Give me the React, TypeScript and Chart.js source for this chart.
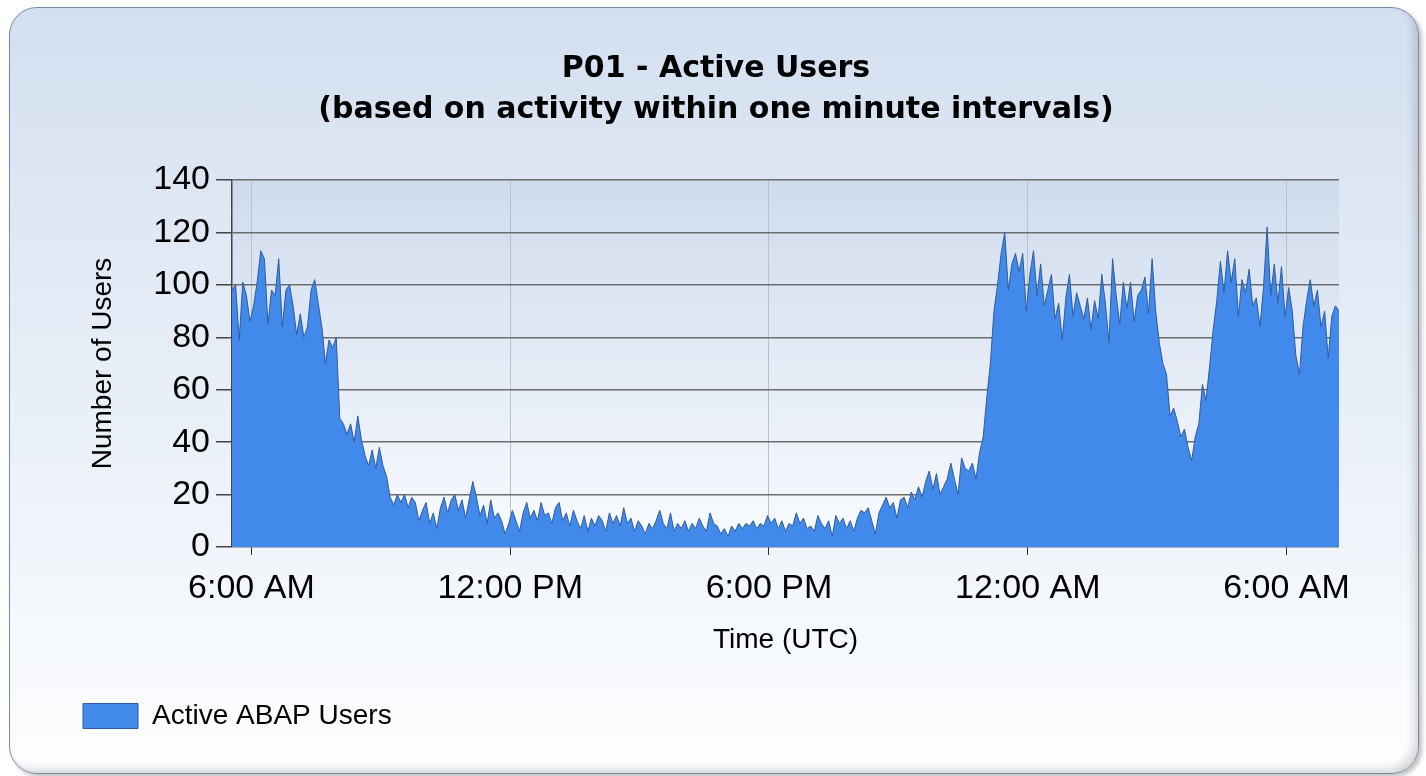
import React, { useEffect, useRef } from "react";
import { Chart, registerables } from "chart.js";

Chart.register(...registerables);

// ---- Data (5-minute samples) ----
const startHour = 5.55; // 5:33 AM (UTC)
const stepMinutes = 5;

// 05:33 – 09:43
const morningUsers = [
  98, 100, 79, 101, 96, 86, 92, 101, 113, 110, 85, 98, 96, 110, 84, 98, 100, 92, 81, 89,
  80, 84, 98, 102, 93, 84, 70, 79, 76, 80, 49, 47, 43, 47, 40, 50, 41, 35, 31, 37,
  30, 38, 31, 27, 19, 16, 20, 17, 20, 15, 19,
];
// 09:48 – 14:03
const middayUsers = [
  17, 10, 14, 17, 9, 13, 7, 15, 19, 13, 18, 20, 14, 18, 11, 18, 25, 19, 12, 16,
  9, 18, 11, 13, 10, 5, 9, 14, 10, 6, 13, 17, 11, 14, 10, 17, 12, 13, 9, 15,
  17, 10, 13, 8, 14, 10, 7, 12, 6, 11, 8, 12,
];
// 14:08 – 18:18
const afternoonUsers = [
  10, 6, 13, 9, 12, 8, 15, 9, 11, 6, 10, 8, 5, 9, 7, 10, 14, 9, 7, 13,
  6, 9, 7, 10, 6, 9, 7, 11, 8, 6, 13, 9, 8, 5, 7, 4, 8, 6, 9, 7,
  9, 8, 10, 7, 9, 8, 12, 9, 11, 7, 10,
];
// 18:23 – 22:33
const eveningUsers = [
  6, 9, 8, 13, 9, 11, 7, 8, 6, 12, 9, 7, 10, 4, 12, 9, 11, 7, 10, 6,
  11, 14, 13, 15, 10, 5, 13, 16, 19, 15, 17, 11, 18, 19, 15, 21, 18, 23, 19, 25,
  29, 22, 28, 20, 23, 26, 32, 26, 20, 34, 30,
];
// 22:38 – 02:53
const nightUsers = [
  29, 32, 26, 36, 42, 57, 70, 90, 100, 112, 120, 98, 108, 112, 105, 112, 90, 104, 113, 96,
  108, 92, 98, 104, 87, 93, 79, 95, 104, 88, 97, 92, 87, 95, 83, 94, 87, 104, 93, 78,
  110, 96, 85, 101, 91, 101, 86, 96, 98, 103, 89, 110,
];
// 02:58 – 07:13
const earlyUsers = [
  90, 78, 70, 66, 50, 53, 48, 42, 45, 38, 33, 42, 47, 62, 56, 69, 83, 94, 109, 97,
  113, 101, 110, 88, 102, 97, 106, 92, 95, 84, 99, 122, 96, 108, 93, 107, 88, 99, 90, 73,
  66, 84, 94, 102, 92, 98, 84, 90, 72, 88, 92, 90,
];

const activeUsers = [
  ...morningUsers,
  ...middayUsers,
  ...afternoonUsers,
  ...eveningUsers,
  ...nightUsers,
  ...earlyUsers,
];

const endHour = startHour + ((activeUsers.length - 1) * stepMinutes) / 60;

const xTickHours = [6, 12, 18, 24, 30];
const xTickLabels = ["6:00 AM", "12:00 PM", "6:00 PM", "12:00 AM", "6:00 AM"];
const yMin = 0;
const yMax = 140;
const yStep = 20;

const seriesLabel = "Active ABAP Users";
const titleLines = ["P01 - Active Users", "(based on activity within one minute intervals)"];
const yAxisTitle = "Number of Users";
const xAxisTitle = "Time (UTC)";

const plotBackground = {
  id: "plotBackground",
  beforeDraw(chart: any) {
    const { ctx, chartArea } = chart;
    if (!chartArea) return;
    const g = ctx.createLinearGradient(0, chartArea.top, 0, chartArea.bottom);
    g.addColorStop(0, "#cfdbed");
    g.addColorStop(1, "#f9fbfe");
    ctx.save();
    ctx.fillStyle = g;
    ctx.fillRect(chartArea.left, chartArea.top, chartArea.right - chartArea.left, chartArea.bottom - chartArea.top);
    ctx.restore();
  },
};

// Title centred on the whole framed panel (not just the chart's layout box)
const panelTitle = {
  id: "panelTitle",
  afterDraw(chart: any) {
    const { ctx, width } = chart;
    ctx.save();
    ctx.fillStyle = "#000";
    ctx.font = "bold 30px 'DejaVu Sans', Verdana, sans-serif";
    ctx.textAlign = "center";
    ctx.textBaseline = "middle";
    const cx = width / 2 + 3;
    titleLines.forEach((line, i) => {
      ctx.fillText(line, cx, 69.5 + i * 41);
    });
    ctx.restore();
  },
};

export default function App() {
  const canvasRef = useRef<HTMLCanvasElement | null>(null);

  useEffect(() => {
    const canvas = canvasRef.current;
    if (!canvas) return;
    const points = activeUsers.map((v, i) => ({ x: startHour + (i * stepMinutes) / 60, y: v }));
    const tickFont = { family: "'Liberation Sans', Arial, sans-serif", size: 34 };
    const titleFont = { family: "'Liberation Sans', Arial, sans-serif", size: 28 };

    const chart = new Chart(canvas, {
      type: "line",
      data: {
        datasets: [
          {
            label: seriesLabel,
            data: points,
            fill: "origin",
            backgroundColor: "#4189ea",
            borderColor: "#2f5c9c",
            borderWidth: 1,
            pointRadius: 0,
            tension: 0,
          },
        ],
      },
      options: {
        responsive: false,
        animation: false,
        layout: { padding: { left: 73, right: 87, top: 180, bottom: 36 } },
        plugins: {
          title: { display: false },
          legend: {
            position: "bottom",
            align: "start",
            labels: {
              boxWidth: 55,
              boxHeight: 25,
              padding: 10,
              color: "#000",
              font: titleFont,
            },
          },
          tooltip: { enabled: false },
        },
        scales: {
          x: {
            type: "linear",
            min: startHour,
            max: endHour,
            afterBuildTicks: (scale: any) => {
              scale.ticks = xTickHours.map((v) => ({ value: v }));
            },
            afterFit: (scale: any) => {
              scale.height = 145;
            },
            ticks: {
              autoSkip: false,
              maxRotation: 0,
              padding: 13,
              color: "#000",
              font: tickFont,
              callback: (value: any) => {
                const idx = xTickHours.indexOf(Number(value));
                return idx >= 0 ? xTickLabels[idx] : "";
              },
            },
            grid: {
              color: "#b8c0cc",
              lineWidth: 1,
              drawTicks: true,
              tickLength: 8,
              tickColor: "#333",
            },
            border: { display: false },
            title: {
              display: true,
              text: xAxisTitle,
              color: "#000",
              font: titleFont,
              padding: { top: 0, bottom: 35 },
            },
          },
          y: {
            min: yMin,
            max: yMax,
            afterFit: (scale: any) => {
              scale.width = 159;
            },
            ticks: {
              stepSize: yStep,
              padding: 6,
              color: "#000",
              font: tickFont,
            },
            grid: {
              color: "#6d6d6d",
              lineWidth: 1.5,
              drawTicks: true,
              tickLength: 16,
              tickColor: "#444",
            },
            border: { display: true, color: "#444", width: 1.5 },
            title: {
              display: true,
              text: yAxisTitle,
              color: "#000",
              font: titleFont,
              padding: { top: 13, bottom: 0 },
            },
          },
        },
      },
      plugins: [plotBackground, panelTitle],
    } as any);

    return () => chart.destroy();
  }, []);

  return (
    <div style={{ position: "absolute", left: 0, top: 0, width: 1426, height: 776, background: "#fff", overflow: "hidden" }}>
      <div
        style={{
          position: "absolute",
          left: 9,
          top: 7,
          width: 1410,
          height: 767,
          boxSizing: "border-box",
          border: "1.5px solid #7488aa",
          borderRadius: 28,
          background: "linear-gradient(to bottom, #d3dff0 0%, #e6edf7 45%, #fdfeff 100%)",
          boxShadow: "3px 3px 4px rgba(0,0,0,0.25), inset -6px -6px 8px -2px rgba(0,0,0,0.15)",
        }}
      />
      <canvas
        ref={canvasRef}
        width={1426}
        height={776}
        style={{ position: "absolute", left: 0, top: 0, width: 1426, height: 776, display: "block" }}
      />
    </div>
  );
}
